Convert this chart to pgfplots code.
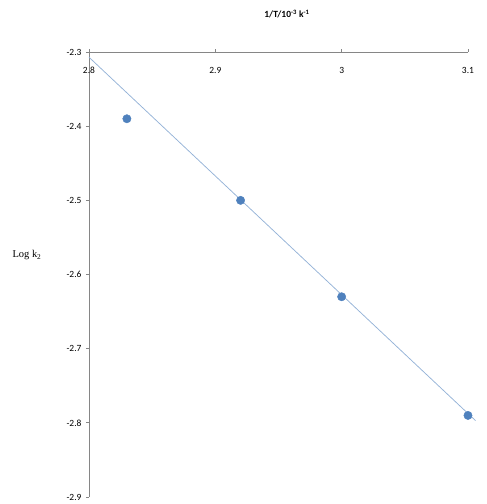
\documentclass[border=0pt]{standalone}
\usepackage{pgfplots}
\pgfplotsset{compat=1.18}
\usepackage{fontspec}
\setmainfont{Carlito}
\newfontfamily\seriffont{Liberation Serif}
\definecolor{ptblue}{RGB}{79,129,189}
\definecolor{trend}{RGB}{149,179,215}
\definecolor{axgray}{RGB}{134,134,134}
\begin{document}
\begin{tikzpicture}
\begin{axis}[
  scale only axis, width=379bp, height=445bp,
  xmin=2.8, xmax=3.1, ymin=-2.9, ymax=-2.3,
  axis x line*=top, axis y line*=left,
  axis line style={axgray, line width=0.8pt, -},
  xtick={2.8,2.9,3,3.1}, xticklabels={2.8,2.9,3,3.1},
  ytick={-2.9,-2.8,-2.7,-2.6,-2.5,-2.4,-2.3},
  yticklabels={-2.9,-2.8,-2.7,-2.6,-2.5,-2.4,-2.3},
  tick align=outside, major tick length=3bp,
  tick style={axgray, line width=0.8pt},
  ticklabel style={font=\fontsize{9.5}{11}\selectfont, text=black},
  xticklabel style={anchor=north, yshift=-14.5bp},
  yticklabel style={xshift=-1bp},
  clip=false,
  title={\textbf{1/T/10\textsuperscript{-3} k\textsuperscript{-1}}},
  title style={font=\fontsize{9.5}{11}\selectfont, at={(rel axis cs:0.5224,1.0719)}, anchor=center},
  ylabel={{\seriffont Log k\textsubscript{2}}},
  ylabel style={rotate=-90, font=\fontsize{10.5}{12}\selectfont, at={(rel axis cs:-0.1636,0.5438)}, anchor=center},
]
\path (rel axis cs:-0.2348,-0.0157) rectangle (rel axis cs:1.0501,1.1169);
\addplot[trend, line width=0.75pt] coordinates {(2.8,-2.307) (3.106,-2.797)};
\addplot[only marks, mark=*, mark size=4.2pt, mark options={fill=ptblue, draw=ptblue}] coordinates {(2.83,-2.39) (2.92,-2.50) (3.0,-2.63) (3.1,-2.79)};
\end{axis}
\end{tikzpicture}
\end{document}
